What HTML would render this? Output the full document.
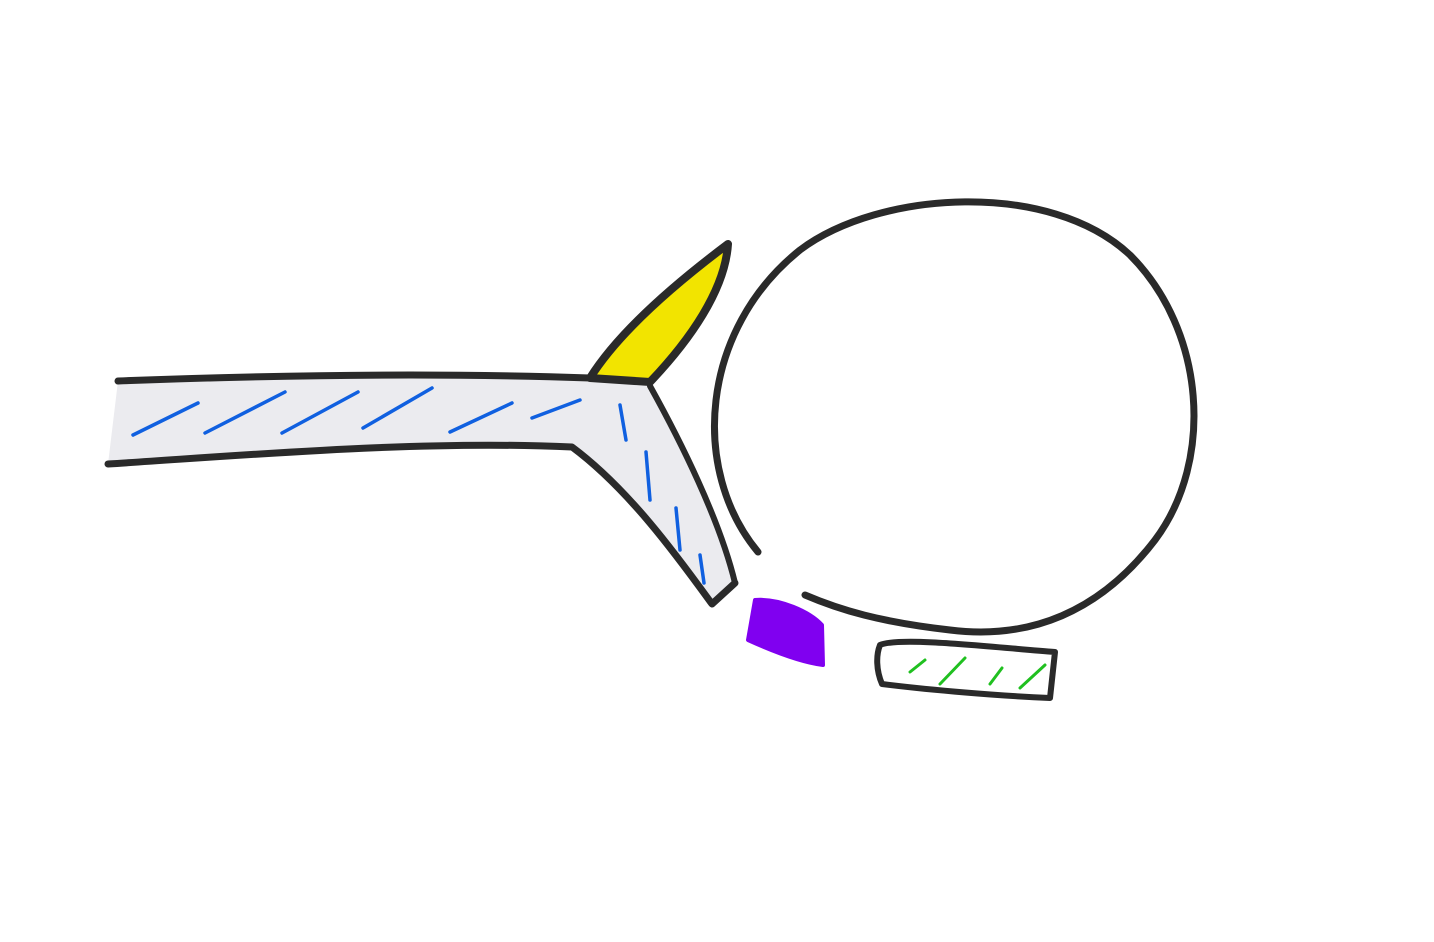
<!DOCTYPE html>
<html><head><meta charset="utf-8"><style>
html,body{margin:0;padding:0;background:#fff;}
svg{display:block;}
</style></head><body>
<svg width="1434" height="942" viewBox="0 0 1434 942">
<rect width="1434" height="942" fill="#fff"/>
<g>
<path d="M118 381 C250 376 420 372 590 378 L650 386 C680 440 720 520 735 583 L712 604 C680 560 630 490 572 447 C420 440 250 455 108 464 Z" fill="#ebebef" stroke="none"/>
<path d="M118 381 C250 376 420 372 590 378" fill="none" stroke="#2a2a2a" stroke-width="7" stroke-linecap="round"/>
<path d="M108 464 C250 455 420 440 572 447 C630 490 680 560 712 604 L735 583" fill="none" stroke="#2a2a2a" stroke-width="7" stroke-linecap="round" stroke-linejoin="round"/>
<path d="M650 386 C680 440 720 520 735 583" fill="none" stroke="#2a2a2a" stroke-width="6" stroke-linecap="round"/>
<g stroke="#1060e0" stroke-width="3.5" stroke-linecap="round" fill="none">
<path d="M133 435 L198 403"/><path d="M205 433 L285 392"/><path d="M282 433 L358 392"/>
<path d="M363 428 L432 388"/><path d="M450 432 L512 403"/><path d="M532 418 L580 400"/>
<path d="M620 405 L626 440"/><path d="M646 452 L650 500"/><path d="M676 508 L680 550"/><path d="M700 555 L704 583"/>
</g>
</g>
<path d="M590 378 C620 330 680 280 728 244 C725 290 690 340 650 382 Z" fill="#f2e400" stroke="#2a2a2a" stroke-width="8" stroke-linejoin="round"/>
<path d="M758 552 C690 470 700 330 800 250 C880 190 1050 180 1130 255 C1205 330 1215 460 1155 540 C1100 612 1030 640 950 630 C880 622 840 610 805 595" fill="none" stroke="#2a2a2a" stroke-width="7" stroke-linecap="round"/>
<path d="M755 600 C780 598 810 612 822 625 L823 665 C800 662 770 650 748 640 Z" fill="#8000f0" stroke="#8000f0" stroke-width="4" stroke-linejoin="round"/>
<g>
<path d="M880 645 C900 636 1000 648 1055 652 L1050 698 C1000 696 930 690 882 684 C876 670 876 655 880 645 Z" fill="#fff" stroke="#2a2a2a" stroke-width="6" stroke-linejoin="round"/>
<g stroke="#20c020" stroke-width="3" stroke-linecap="round">
<path d="M910 672 L925 660"/><path d="M940 684 L965 658"/><path d="M990 684 L1002 668"/><path d="M1020 688 L1045 665"/>
</g>
</g>
</svg>
</body></html>
